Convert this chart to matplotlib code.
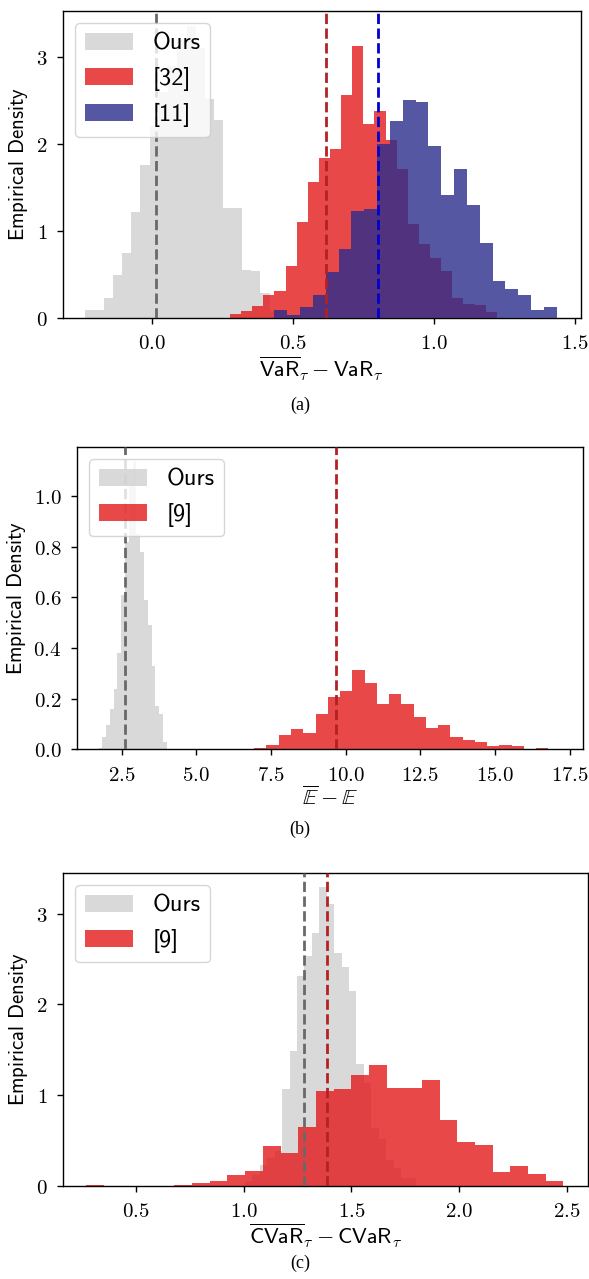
import numpy as np
import matplotlib
matplotlib.use("Agg")
import matplotlib.pyplot as plt

plt.rcParams['mathtext.fontset'] = 'cm'

# ---------------- data (densities) ----------------
# Panel (a): VaR gap
a_ours_start, a_ours_width = -0.236, 0.0327
a_ours = [0.09, 0.09, 0.22, 0.49, 0.74, 1.21, 1.76, 2.20, 2.60, 2.90, 3.20, 3.36,
          3.10, 2.52, 2.27, 1.26, 1.26, 0.55, 0.53, 0.28, 0.08]
a_r32_start, a_r32_width = 0.2777, 0.0394
a_r32 = [0.035, 0.07, 0.13, 0.26, 0.31, 0.59, 1.10, 1.56, 1.84, 1.94, 2.56, 3.13,
         2.23, 2.38, 2.05, 1.71, 1.08, 0.85, 0.69, 0.53, 0.23, 0.16, 0.14, 0.06]
a_r11_start, a_r11_width = 0.435, 0.0455
a_r11 = [0.09, 0.03, 0.12, 0.26, 0.52, 0.79, 1.23, 1.25, 2.00, 2.26, 2.51, 2.48,
         1.98, 1.41, 1.71, 1.30, 0.86, 0.42, 0.33, 0.26, 0.09, 0.12]
a_mean_ours, a_mean_r32, a_mean_r11 = 0.015, 0.617, 0.804

# Panel (b): expectation gap
b_ours_start, b_ours_width = 1.73, 0.127
b_ours = [0.006, 0.05, 0.096, 0.158, 0.24, 0.38, 0.61, 0.82, 1.05, 1.14, 0.85,
          0.78, 0.59, 0.49, 0.33, 0.17, 0.14, 0.03]
b_r9_start, b_r9_width = 6.94, 0.41
b_r9 = [0.004, 0.017, 0.057, 0.08, 0.064, 0.14, 0.207, 0.23, 0.313, 0.262, 0.179,
        0.218, 0.179, 0.128, 0.084, 0.096, 0.049, 0.038, 0.029, 0.013, 0.017,
        0.013, 0.0, 0.005]
b_mean_ours, b_mean_r9 = 2.62, 9.66

# Panel (c): CVaR gap
c_ours_start, c_ours_width = 1.0055, 0.0345
c_ours = [0.05, 0.12, 0.23, 0.30, 0.38, 1.07, 1.49, 2.31, 2.53, 2.79, 3.29, 3.11,
          2.56, 2.41, 2.15, 1.34, 1.13, 0.64, 0.52, 0.28, 0.20, 0.08, 0.08]
c_r9_start, c_r9_width = 0.2675, 0.0821
c_r9 = [0.01, 0.0, 0.0, 0.0, 0.0, 0.007, 0.033, 0.055, 0.118, 0.16, 0.44, 0.36,
        0.65, 1.04, 1.07, 1.22, 1.33, 1.08, 1.08, 1.17, 0.72, 0.48, 0.45, 0.15,
        0.22, 0.13, 0.05]
c_mean_ours, c_mean_r9 = 1.279, 1.385

labels_a = ["Ours", "[32]", "[11]"]
labels_bc = ["Ours", "[9]"]

# ---------------- styles ----------------
GRAY = '#d0d0d0'
RED = '#e41a1c'
BLUE = '#2b2d8c'
ALPHA = 0.8
FS_TICK = 15
FS_YLAB = 15
FS_XLAB = 16
FS_LEG = 17.5
DASH_LW = 2.0


def draw_hist(ax, start, width, heights, color, label, z):
    heights = np.asarray(heights, dtype=float)
    edges = start + width * np.arange(len(heights) + 1)
    centers = 0.5 * (edges[:-1] + edges[1:])
    ax.hist(centers, bins=edges, weights=heights, color=color, alpha=ALPHA,
            label=label, zorder=z)


def style_axes(ax, xticks, xfmt, yticks, yfmt, xlim, ylim, xlabel, xlabelpad):
    ax.set_xlim(*xlim)
    ax.set_ylim(*ylim)
    ax.set_xticks(xticks)
    ax.set_xticklabels([("$" + xfmt + "$").format(t) for t in xticks], fontsize=FS_TICK)
    ax.set_yticks(yticks)
    ax.set_yticklabels([("$" + yfmt + "$").format(t) for t in yticks], fontsize=FS_TICK)
    ax.tick_params(axis='x', length=4.5, width=1.0, pad=6.5)
    ax.tick_params(axis='y', length=4.5, width=1.0, pad=6.5)
    ax.set_ylabel(r"$\mathsf{Empirical\ Density}$", fontsize=FS_YLAB, labelpad=4)
    ax.set_xlabel(xlabel, fontsize=FS_XLAB, labelpad=xlabelpad)
    for sp in ax.spines.values():
        sp.set_linewidth(1.0)


def add_legend(ax):
    ax.legend(loc='upper left', prop={'family': 'cmss10', 'size': FS_LEG},
              framealpha=0.8)


fig = plt.figure(figsize=(5.89, 12.79), dpi=100)
W, H = 589.0, 1279.0


def add_ax(l, r, t, b):
    return fig.add_axes([l / W, 1 - b / H, (r - l) / W, (b - t) / H])


# ---- (a)
ax1 = add_ax(62.7, 580.7, 11, 317.5)
draw_hist(ax1, a_ours_start, a_ours_width, a_ours, GRAY, labels_a[0], 1)
draw_hist(ax1, a_r32_start, a_r32_width, a_r32, RED, labels_a[1], 2)
draw_hist(ax1, a_r11_start, a_r11_width, a_r11, BLUE, labels_a[2], 3)
ax1.axvline(a_mean_ours, color='dimgray', ls='--', lw=DASH_LW, zorder=4)
ax1.axvline(a_mean_r32, color='firebrick', ls='--', lw=DASH_LW, zorder=4)
ax1.axvline(a_mean_r11, color='mediumblue', ls='--', lw=DASH_LW, zorder=4)
style_axes(ax1, [0.0, 0.5, 1.0, 1.5], "{:.1f}", [0, 1, 2, 3], "{:d}",
           (-0.3156, 1.521), (0, 3.53),
           r"$\overline{\mathsf{VaR}}_\tau - \mathsf{VaR}_\tau$", 1.5)
add_legend(ax1)

# ---- (b)
ax2 = add_ax(76.7, 582.7, 446.7, 749.3)
draw_hist(ax2, b_ours_start, b_ours_width, b_ours, GRAY, labels_bc[0], 1)
draw_hist(ax2, b_r9_start, b_r9_width, b_r9, RED, labels_bc[1], 2)
ax2.axvline(b_mean_ours, color='dimgray', ls='--', lw=DASH_LW, zorder=4)
ax2.axvline(b_mean_r9, color='firebrick', ls='--', lw=DASH_LW, zorder=4)
style_axes(ax2, [2.5, 5.0, 7.5, 10.0, 12.5, 15.0, 17.5], "{:.1f}",
           [0.0, 0.2, 0.4, 0.6, 0.8, 1.0], "{:.1f}",
           (1.0, 17.93), (0, 1.196),
           r"$\overline{\mathbb{E}} - \mathbb{E}$", 0.5)
add_legend(ax2)

# ---- (c)
ax3 = add_ax(62.7, 588.3, 872.7, 1185.7)
draw_hist(ax3, c_ours_start, c_ours_width, c_ours, GRAY, labels_bc[0], 1)
draw_hist(ax3, c_r9_start, c_r9_width, c_r9, RED, labels_bc[1], 2)
ax3.axvline(c_mean_ours, color='dimgray', ls='--', lw=DASH_LW, zorder=4)
ax3.axvline(c_mean_r9, color='firebrick', ls='--', lw=DASH_LW, zorder=4)
style_axes(ax3, [0.5, 1.0, 1.5, 2.0, 2.5], "{:.1f}", [0, 1, 2, 3], "{:d}",
           (0.159, 2.60), (0, 3.45),
           r"$\overline{\mathsf{CVaR}}_\tau - \mathsf{CVaR}_\tau$", 0.5)
add_legend(ax3)

# captions
for txt, y in [("(a)", 405), ("(b)", 829), ("(c)", 1263)]:
    fig.text(300 / W, 1 - y / H, txt, ha='center', va='center',
             fontsize=13, family='Liberation Serif')

fig.savefig("out.png", dpi=100)
